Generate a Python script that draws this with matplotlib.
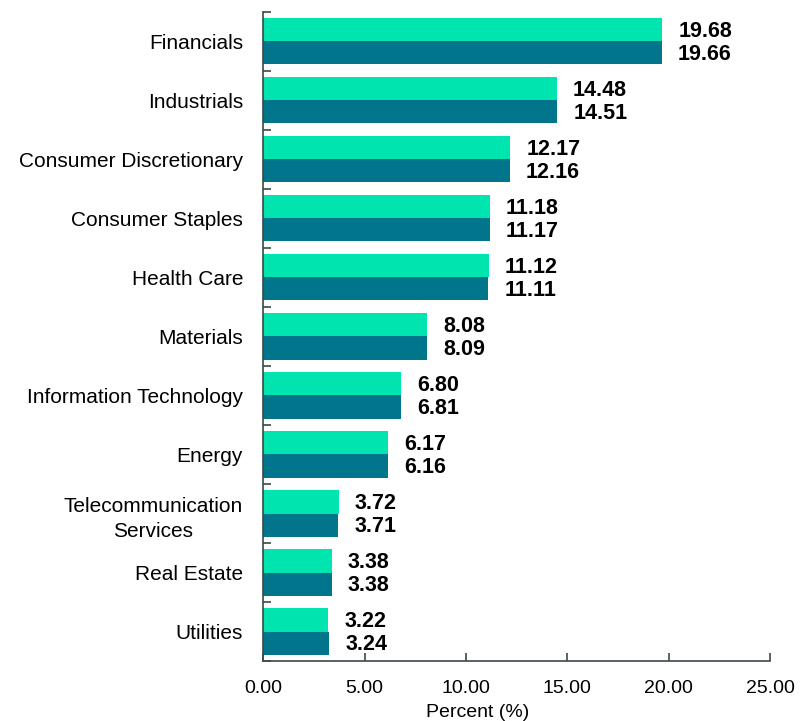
import matplotlib
matplotlib.use("Agg")
import matplotlib.pyplot as plt
import numpy as np

plt.rcParams['font.family'] = ['Liberation Sans', 'DejaVu Sans']

categories = ["Financials", "Industrials", "Consumer Discretionary", "Consumer Staples",
              "Health Care", "Materials", "Information Technology", "Energy",
              "Telecommunication\nServices", "Real Estate", "Utilities"]
series_a = [19.68, 14.48, 12.17, 11.18, 11.12, 8.08, 6.80, 6.17, 3.72, 3.38, 3.22]
series_b = [19.66, 14.51, 12.16, 11.17, 11.11, 8.09, 6.81, 6.16, 3.71, 3.38, 3.24]
xticks = [0, 5, 10, 15, 20, 25]

color_a = "#00E5B0"
color_b = "#00758C"
spine_color = "#3A4A44"

fig = plt.figure(figsize=(8, 7.21), dpi=100)
ax = fig.add_axes([0.329, 0.0832, 0.6335, 0.9002])

n = len(categories)
y = np.arange(n)
h = 0.39
ax.barh(y - h/2, series_a, height=h, color=color_a, edgecolor="none")
ax.barh(y + h/2, series_b, height=h, color=color_b, edgecolor="none")

for yi, va, vb in zip(y, series_a, series_b):
    ax.text(va + 0.8, yi - h/2 + 0.02, f"{va:.2f}", va="center", ha="left",
            fontsize=15.5, fontweight="bold", color="black")
    ax.text(vb + 0.8, yi + h/2 + 0.02, f"{vb:.2f}", va="center", ha="left",
            fontsize=15.5, fontweight="bold", color="black")

ax.set_ylim(n - 0.5, -0.5)
ax.set_xlim(0, 25)

ax.set_yticks(y)
ax.set_yticklabels(categories, fontsize=15)
for lbl in ax.get_yticklabels():
    lbl.set_multialignment("center")
    lbl.set_linespacing(1.4)
ax.set_yticks(np.arange(n + 1) - 0.5, minor=True)
ax.tick_params(axis="y", which="major", length=0, pad=14.5)
ax.tick_params(axis="y", which="minor", length=6, direction="in", color=spine_color, width=1.2)

ax.set_xticks(xticks)
ax.set_xticklabels([f"{t:.2f}" for t in xticks], fontsize=14)
ax.tick_params(axis="x", length=6, direction="in", color=spine_color, width=1.2, pad=14)
ax.set_xlabel("Percent (%)", fontsize=14)
ax.xaxis.set_label_coords(0.424, -0.067)

for s in ["top", "right"]:
    ax.spines[s].set_visible(False)
for s in ["left", "bottom"]:
    ax.spines[s].set_color(spine_color)
    ax.spines[s].set_linewidth(1.2)

fig.savefig("out.png", dpi=100)
